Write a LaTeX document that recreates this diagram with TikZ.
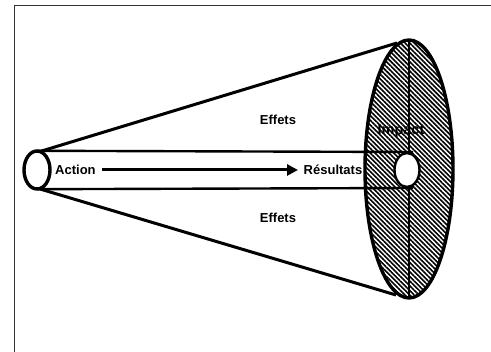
\documentclass[tikz,border=0pt]{standalone}
\usepackage{fontspec}
\setmainfont{Liberation Sans}
\usetikzlibrary{shapes.geometric,patterns.meta,arrows.meta}
\begin{document}
\begin{tikzpicture}[x=1pt,y=-1pt,
  lbl/.style={font=\fontsize{13}{15}\selectfont\bfseries, inner sep=0pt},
  conel/.style={line width=3pt},
  tubel/.style={line width=2.4pt},
  rim/.style={line width=3.4pt}]
\useasboundingbox (0,0) rectangle (491,352);
% frame
\draw[line width=1.4pt, draw=black!80] (14.5,352) -- (14.5,5.5) -- (491,5.5);
% named points
\node[ellipse, draw=none, minimum width=88pt, minimum height=258pt, inner sep=0pt] (imp) at (409,169) {};
\node[ellipse, draw=none, minimum width=26pt, minimum height=38pt, inner sep=0pt] (act) at (37,170) {};
\coordinate (ct) at (40,151.5);
\coordinate (cb) at (40,189);
\coordinate (it) at (397,43);
\coordinate (ib) at (396,295);
\coordinate (tt) at (413,152);
\coordinate (tb) at (413,188);
% cone
\draw[conel] (ct) -- (it);
\draw[conel] (cb) -- (ib);
% big ellipse with hatching
\fill[white] (409,169) ellipse [x radius=44, y radius=129];
\fill[pattern={Lines[angle=-45, distance=3.3pt, line width=1.6pt]}] (409,169) ellipse [x radius=44, y radius=129];
\draw[line width=2.6pt] (imp.north) -- (imp.south);
% tube
\draw[tubel] (act.north) -- (tt);
\draw[tubel] (act.south) -- (tb);
% hole
\node[ellipse, fill=white, draw=black, line width=2.4pt, minimum width=25pt, minimum height=34pt, inner sep=0pt] (hole) at (407,170) {};
\draw[rim] (409,169) ellipse [x radius=44, y radius=129];
% small ellipse
\draw[rim, fill=white] (37,170) ellipse [x radius=13, y radius=19];
% labels
\node[lbl, anchor=west] (action) at (55,170) {Action};
\node[lbl] (res) at (333,170) {Résultats};
\draw[line width=3pt, -{Triangle[length=11pt, width=11pt]}] (action.east) ++(6,0) coordinate (as) (as) -- (res.west -| 298,0) coordinate (ae);
\node[lbl] (e1) at (278,120) {Effets};
\node[lbl] (e2) at (278,218) {Effets};
\node[lbl, font=\fontsize{14.5}{16}\selectfont\bfseries] (impact) at (401,131) {Impact};
\end{tikzpicture}
\end{document}
